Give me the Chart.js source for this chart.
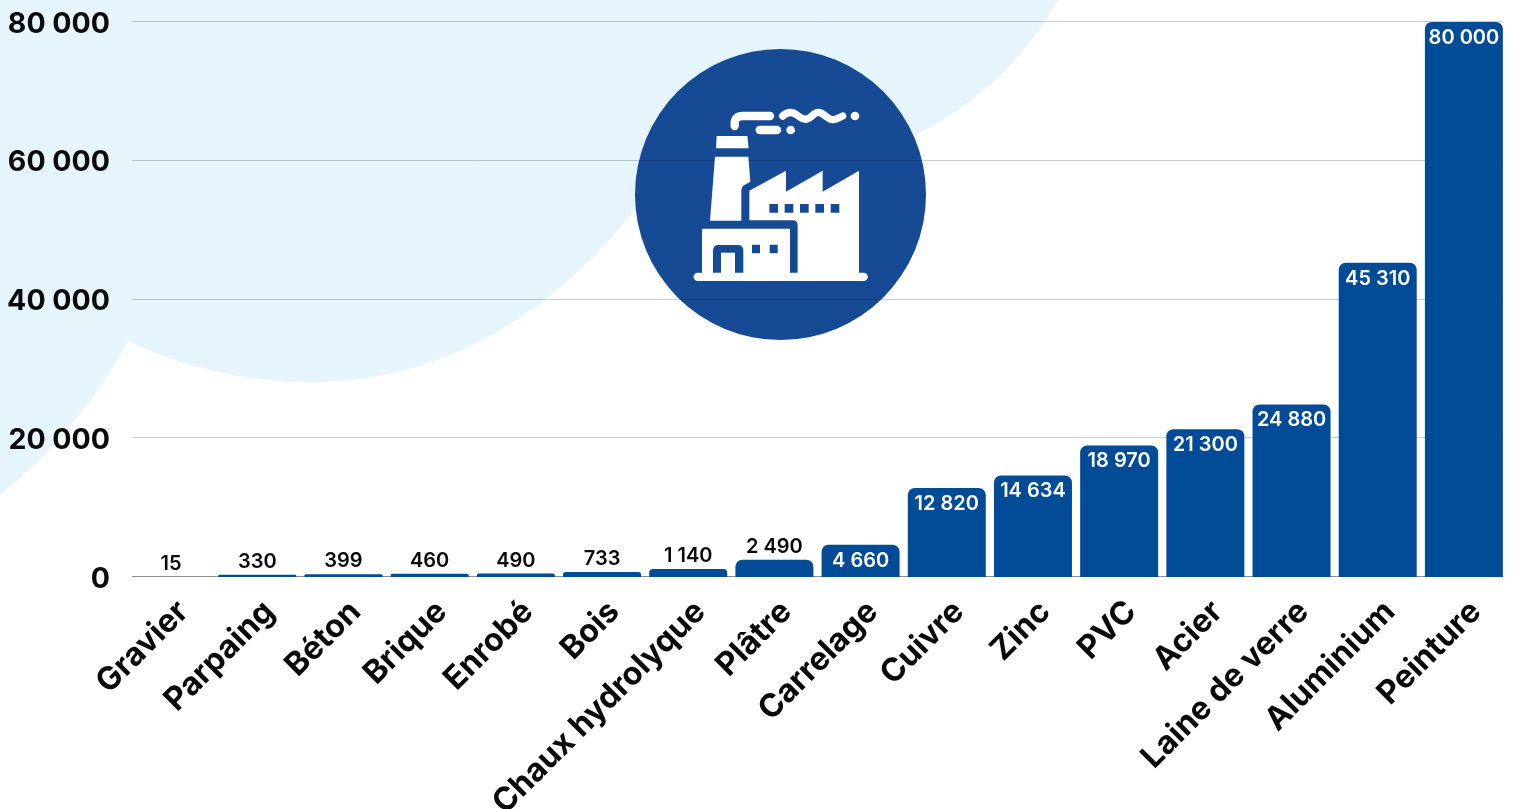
<!DOCTYPE html>
<html lang="fr">
<head>
<meta charset="utf-8">
<title>Matériaux de construction</title>
<script src="https://cdn.jsdelivr.net/npm/chart.js@4"></script>
<style>
  html, body { margin: 0; padding: 0; background: #fff; overflow: hidden; }
  #wrap { position: relative; width: 1515px; height: 809px; }
</style>
</head>
<body>
<div id="wrap"><canvas id="chart" width="1515" height="809"></canvas></div>
<script>
const categories = ['Gravier', 'Parpaing', 'Béton', 'Brique', 'Enrobé', 'Bois', 'Chaux hydrolyque', 'Plâtre',
  'Carrelage', 'Cuivre', 'Zinc', 'PVC', 'Acier', 'Laine de verre', 'Aluminium', 'Peinture'];
const seriesValues = [15, 330, 399, 460, 490, 733, 1140, 2490, 4660, 12820, 14634, 18970, 21300, 24880, 45310, 80000];
const yTicks = [0, 20000, 40000, 60000, 80000];

const FONT = 'Inter, "Open Sans", sans-serif';
const BAR_BLUE = '#024B97';
const DISC_BLUE = '#174A94';
const BLOB_BLUE = '#E6F4FC';
const INSIDE_LABEL_MIN = 4000;
const GRID_INSET = 4;

// French digit grouping
function groupDigits(v) {
  return String(v).replace(/\B(?=(\d{3})+$)/g, '\u00a0');
}

// Pale cloud shape behind the plot, then the dark disc that holds the factory
const backdrop = {
  id: 'backdrop',
  beforeDraw(chart) {
    const c = chart.ctx;
    c.save();
    c.fillStyle = BLOB_BLUE;
    c.beginPath();
    c.moveTo(0, 0);
    c.lineTo(1058, 0);
    c.bezierCurveTo(1022, 62, 975, 105, 915, 135);
    c.lineTo(760, 150);
    c.lineTo(637, 207);
    c.bezierCurveTo(575, 285, 470, 382, 310, 382);
    c.bezierCurveTo(245, 382, 180, 366, 128, 341);
    c.bezierCurveTo(95, 400, 55, 450, 0, 495);
    c.closePath();
    c.fill();
    c.fillStyle = DISC_BLUE;
    c.beginPath();
    c.arc(780.5, 194.5, 145.5, 0, Math.PI * 2);
    c.fill();
    c.restore();
  }
};

// Horizontal rules stop at the outer edges of the first and last bars
const gridRules = {
  id: 'gridRules',
  beforeDatasetsDraw(chart) {
    const c = chart.ctx;
    const { left, right } = chart.chartArea;
    c.save();
    c.lineWidth = 1;
    yTicks.forEach(value => {
      const y = Math.round(chart.scales.y.getPixelForValue(value)) - 0.5;
      c.strokeStyle = value === 0 ? '#8c8c8c' : 'rgba(0,0,0,0.2)';
      c.beginPath();
      c.moveTo(left + GRID_INSET, y);
      c.lineTo(right - GRID_INSET, y);
      c.stroke();
    });
    c.restore();
  }
};

// White factory pictogram, laid over the grid lines
const factoryIcon = {
  id: 'factoryIcon',
  beforeDatasetsDraw(chart) {
    const c = chart.ctx;
    c.save();
    c.translate(620, 40);
    c.scale(1 / 3, 1 / 3);
    c.fillStyle = '#fff';
    c.strokeStyle = '#fff';
    const shapes = [
      'M290 288H382L386 325H288Z',
      'M285 350H385L391 425L372 436Q364 441 364 450V542H270Z',
      'M388 452L498 392V455L608 392V455L717 392V702H533V557Q533 541 517 541H388Z' +
        'M448 492V518H474V492ZM494 492V518H520V492ZM540 492V518H566V492ZM586 492V518H612V492ZM632 492V518H658V492Z',
      'M246 566H510V702H370V632Q370 615 353 615H296Q279 615 279 632V702H246Z' +
        'M396 614V640H420V614ZM449 614V640H473V614Z',
      'M303 638H345V702H303Z',
      'M233 698H731A12.5 12.5 0 0 1 731 723H233A12.5 12.5 0 0 1 233 698Z'
    ];
    shapes.forEach(d => c.fill(new Path2D(d), 'evenodd'));
    c.lineWidth = 25;
    c.lineCap = 'round';
    c.lineJoin = 'round';
    c.stroke(new Path2D('M344 258V250Q344 228 368 228H450'));
    c.stroke(new Path2D('M419 270H471'));
    c.lineWidth = 22;
    c.stroke(new Path2D('M488 228C505 212 520 216 535 228C552 242 565 240 578 226C594 210 605 218 622 232C640 246 650 236 668 228'));
    c.beginPath(); c.arc(512, 270, 13, 0, Math.PI * 2); c.fill();
    c.beginPath(); c.arc(705, 228, 13, 0, Math.PI * 2); c.fill();
    c.restore();
  }
};

// Value labels: inside the top of tall bars, just above short ones
const valueLabels = {
  id: 'valueLabels',
  afterDatasetsDraw(chart) {
    const c = chart.ctx;
    const bars = chart.getDatasetMeta(0).data;
    c.save();
    c.font = '600 20px ' + FONT;
    c.textAlign = 'center';
    c.textBaseline = 'middle';
    bars.forEach((bar, i) => {
      const v = seriesValues[i];
      const inside = v >= INSIDE_LABEL_MIN;
      c.fillStyle = inside ? '#fff' : '#0a0a0a';
      c.fillText(groupDigits(v), bar.x, bar.y + (inside ? 16 : -13));
    });
    c.restore();
  }
};

new Chart(document.getElementById('chart'), {
  type: 'bar',
  data: {
    labels: categories,
    datasets: [{
      data: seriesValues,
      backgroundColor: BAR_BLUE,
      barPercentage: 0.905,
      categoryPercentage: 1,
      borderRadius: { topLeft: 7, topRight: 7, bottomLeft: 0, bottomRight: 0 },
      borderSkipped: 'bottom'
    }]
  },
  plugins: [backdrop, gridRules, factoryIcon, valueLabels],
  options: {
    responsive: false,
    animation: false,
    layout: { padding: { top: 22, right: 8, left: 0, bottom: 0 } },
    plugins: { legend: { display: false }, tooltip: { enabled: false }, title: { display: false } },
    scales: {
      x: {
        afterFit(axis) {
          axis.height = 232;
          axis.paddingLeft = 0;
          axis.paddingRight = 0;
        },
        grid: { display: false },
        border: { display: false },
        ticks: {
          autoSkip: false,
          minRotation: 45,
          maxRotation: 45,
          labelOffset: 12,
          padding: 8,
          color: '#0a0a0a',
          font: { family: FONT, size: 32, weight: '700' }
        }
      },
      y: {
        min: 0,
        max: 80000,
        afterFit(axis) {
          axis.width = 128;
          axis.paddingTop = 0;
          axis.paddingBottom = 0;
        },
        afterBuildTicks(axis) { axis.ticks = yTicks.map(value => ({ value })); },
        grid: { display: false, drawTicks: false },
        border: { display: false },
        ticks: {
          padding: 18,
          labelOffset: 2,
          color: '#0a0a0a',
          font: { family: FONT, size: 28.5, weight: '700' },
          callback: v => groupDigits(v)
        }
      }
    }
  }
});
</script>
</body>
</html>
